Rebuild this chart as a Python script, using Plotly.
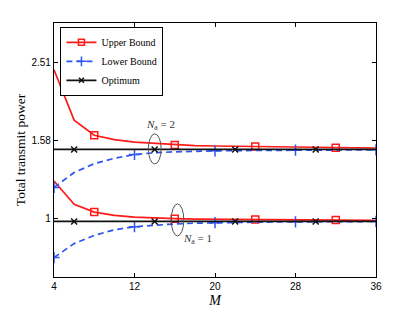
import math
import plotly.graph_objects as go

# ---------------- data ----------------
M = [4, 6, 8, 10, 12, 14, 16, 18, 20, 22, 24, 26, 28, 30, 32, 34, 36]

upper_na2 = [2.40, 1.784, 1.632, 1.590, 1.568, 1.555, 1.542, 1.536, 1.532, 1.529, 1.527, 1.524, 1.521, 1.519, 1.517, 1.515, 1.514]
lower_na2 = [1.20, 1.31, 1.38, 1.425, 1.457, 1.472, 1.480, 1.486, 1.489, 1.491, 1.493, 1.494, 1.495, 1.496, 1.497, 1.497, 1.498]
opt_na2 = [1.501] * len(M)

upper_na1 = [1.246, 1.087, 1.038, 1.018, 1.007, 1.001, 0.998, 0.996, 0.995, 0.994, 0.993, 0.992, 0.991, 0.990, 0.990, 0.989, 0.988]
lower_na1 = [0.794, 0.862, 0.905, 0.935, 0.952, 0.962, 0.968, 0.972, 0.975, 0.977, 0.978, 0.979, 0.980, 0.981, 0.981, 0.982, 0.982]
opt_na1 = [0.982] * len(M)

x_ticks = [4, 12, 20, 28, 36]
y_tick_vals = [10 ** 0, 10 ** 0.2, 10 ** 0.4]
y_tick_text = ["1", "1.58", "2.51"]

# marker subsampling (indices into M)
upper_idx = slice(2, None, 4)   # 8,16,24,32
opt_idx = slice(1, None, 4)     # 6,14,22,30
lower_idx = slice(0, None, 4)   # 4,12,20,28,36

RED = "#ff1a1a"
BLUE = "#2f55f0"
BLACK = "#111111"
SERIF = "Liberation Serif, Times New Roman, serif"
SANS = "Liberation Sans, Arial, sans-serif"

fig = go.Figure()

series = [
    ("Upper Bound", [upper_na2, upper_na1], RED, "solid", "square-open", upper_idx, 7),
    ("Lower Bound", [lower_na2, lower_na1], BLUE, "6px,4px", "cross-thin-open", lower_idx, 8),
    ("Optimum", [opt_na2, opt_na1], BLACK, "solid", "x-thin-open", opt_idx, 6),
]

for name, ys_list, color, dash, symbol, idx, msize in series:
    lw = 1.7
    for ys in ys_list:
        fig.add_trace(go.Scatter(x=M, y=ys, mode="lines", showlegend=False,
                                 line=dict(color=color, width=lw, dash=dash)))
        fig.add_trace(go.Scatter(x=M[idx], y=ys[idx], mode="markers", showlegend=False,
                                 marker=dict(symbol=symbol, size=msize, color=color,
                                             line=dict(color=color, width=1.5))))
    # legend entry
    fig.add_trace(go.Scatter(x=[None], y=[None], mode="lines+markers", name=name,
                             line=dict(color=color, width=lw, dash=dash),
                             marker=dict(symbol=symbol, size=msize - 1, color=color,
                                         line=dict(color=color, width=1.5))))

# ellipses around the highlighted points (data coordinates)
m2 = M[opt_idx][1]
m1 = M[upper_idx][1]
fig.add_shape(type="circle", xref="x", yref="y",
              x0=m2 - 0.62, x1=m2 + 0.65,
              y0=opt_na2[0] * 10 ** (-0.037), y1=opt_na2[0] * 10 ** (0.040),
              line=dict(color="#555555", width=1))
fig.add_shape(type="circle", xref="x", yref="y",
              x0=m1 - 0.35, x1=m1 + 0.9,
              y0=opt_na1[0] * 10 ** (-0.037), y1=opt_na1[0] * 10 ** (0.045),
              line=dict(color="#555555", width=1))

fig.add_annotation(x=m2, y=math.log10(opt_na2[0]), xref="x", yref="y",
                   text="<i>N</i><sub>a</sub> = 2", showarrow=False, xshift=6, yshift=24,
                   font=dict(family=SERIF, size=11, color="#333333"))
fig.add_annotation(x=m1, y=math.log10(opt_na1[0]), xref="x", yref="y",
                   text="<i>N</i><sub>a</sub> = 1", showarrow=False, xshift=23, yshift=-18,
                   font=dict(family=SERIF, size=11, color="#333333"))

axis_common = dict(showline=True, linecolor="black", linewidth=1.2, mirror="ticks",
                   ticks="inside", ticklen=4, tickcolor="black", showgrid=False, zeroline=False,
                   automargin=False,
                   tickfont=dict(family=SANS, size=10, color="black"))

fig.update_xaxes(range=[4, 36], tickvals=x_ticks,
                 title=dict(text="<i>M</i>", font=dict(family=SERIF, size=14, color="black"), standoff=4),
                 **axis_common)
fig.update_yaxes(type="log", range=[-0.15, 0.5], tickvals=y_tick_vals, ticktext=y_tick_text,
                 title=dict(text="Total transmit power", font=dict(family=SERIF, size=13.5, color="black"), standoff=2),
                 **axis_common)

# page body has an 8px margin, so the figure is 8px smaller than the window
fig.update_layout(
    width=408, height=310,
    margin=dict(l=46, r=40, t=15, b=41),
    paper_bgcolor="white", plot_bgcolor="white",
    legend=dict(x=0.02, y=0.985, xanchor="left", yanchor="top",
                bgcolor="white", bordercolor="black", borderwidth=1,
                font=dict(family=SERIF, size=10, color="black"),
                tracegroupgap=0, itemwidth=30),
)

fig.write_html("out.html")
